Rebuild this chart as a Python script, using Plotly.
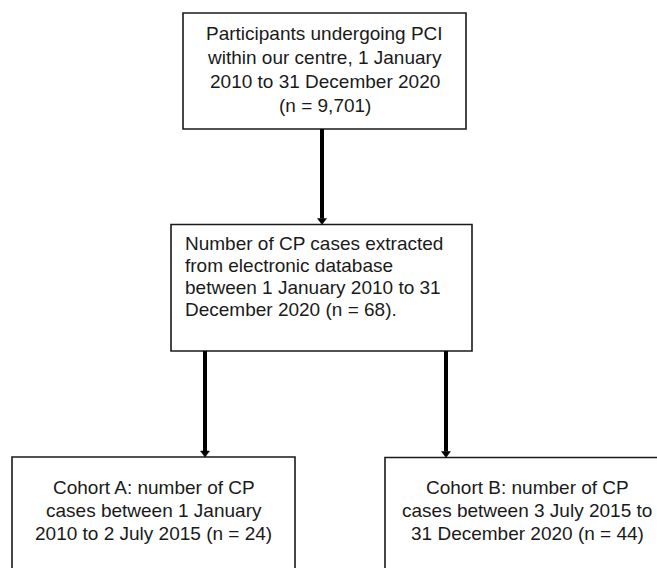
import plotly.graph_objects as go

W, H = 657, 568

# ---- data: box texts (one entry per line) ----
box1_lines = ["Participants undergoing PCI", "within our centre, 1 January",
              "2010 to 31 December 2020", "(n = 9,701)"]
box2_lines = ["Number of CP cases extracted", "from electronic database",
              "between 1 January 2010 to 31", "December 2020 (n = 68)."]
boxA_lines = ["Cohort A: number of CP", "cases between 1 January",
              "2010 to 2 July 2015 (n = 24)"]
boxB_lines = ["Cohort B: number of CP", "cases between 3 July 2015 to",
              "31 December 2020 (n = 44)"]

# ---- layout geometry (pixels, y downward) ----
boxes = {
    "b1": dict(x0=183, x1=466, y0=13, y1=129),
    "b2": dict(x0=171, x1=472, y0=224.5, y1=351),
    "bA": dict(x0=12, x1=295, y0=457, y1=620),
    "bB": dict(x0=385, x1=760, y0=457.5, y1=620),
}
arrows = [(322, 129, 224.5), (205, 351, 457), (446, 351, 457.5)]

FONT = dict(family="Liberation Sans, Arial, sans-serif", size=19, color="#1a1a1a")

fig = go.Figure()
fig.add_trace(go.Scatter(x=[0, W], y=[0, H], mode="markers",
                         marker=dict(opacity=0), hoverinfo="skip", showlegend=False))

for b in boxes.values():
    fig.add_shape(type="rect", xref="x", yref="y", **b,
                  line=dict(color="#1a1a1a", width=1.6), fillcolor="rgba(0,0,0,0)")

for x, ys, ye in arrows:
    hh = 6
    fig.add_shape(type="line", xref="x", yref="y", x0=x, x1=x, y0=ys, y1=ye - hh,
                  line=dict(color="#000000", width=4))
    fig.add_shape(type="path", xref="x", yref="y",
                  path=f"M {x-4.5},{ye-hh} L {x+4.5},{ye-hh} L {x},{ye} Z",
                  fillcolor="#000000", line=dict(color="#000000", width=0.5))

def add_lines(lines, x, ys, xanchor):
    for t, y in zip(lines, ys):
        fig.add_annotation(x=x, y=y, xref="x", yref="y", text=t, showarrow=False,
                           xanchor=xanchor, yanchor="middle", font=FONT,
                           borderpad=0, align=xanchor if xanchor != "center" else "center")

add_lines(box1_lines, 324.5, [33, 57, 81, 105], "center")
add_lines(box2_lines, 184, [243.5, 265.5, 287.5, 309.5], "left")
add_lines(boxA_lines, 153.5, [487.5, 510.5, 533.5], "center")
add_lines(boxB_lines, 527, [487.5, 510.5, 533.5], "center")

fig.update_layout(
    width=W, height=H, margin=dict(l=0, r=0, t=0, b=0),
    paper_bgcolor="white", plot_bgcolor="white",
    xaxis=dict(range=[0, W], visible=False, fixedrange=True),
    yaxis=dict(range=[H, 0], visible=False, fixedrange=True),
    showlegend=False,
)
fig.write_html("out.html", config={"displayModeBar": False},
               post_script="document.body.style.margin='0';document.body.style.overflow='hidden';")
